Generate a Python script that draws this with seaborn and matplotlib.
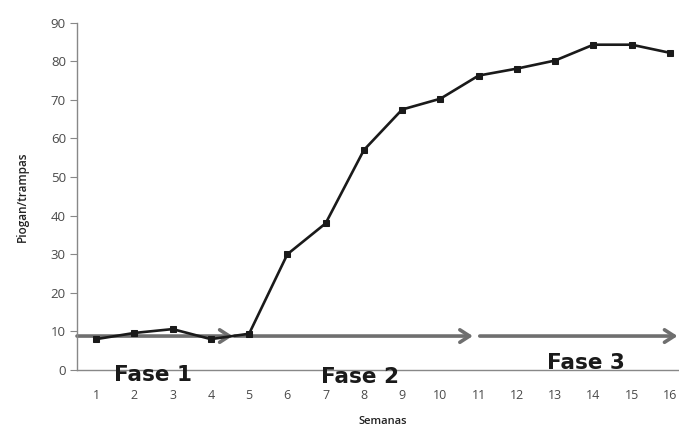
import matplotlib
matplotlib.use("Agg")
import matplotlib.pyplot as plt
import seaborn as sns
import pandas as pd

# Weekly trap counts
semanas = list(range(1, 17))
piogan = [8, 9.6, 10.6, 8, 9.4, 30, 38, 57, 67.5, 70.3, 76.3, 78.1, 80.2, 84.3, 84.3, 82.2]
y_ticks = [0, 10, 20, 30, 40, 50, 60, 70, 80, 90]

# Phase arrows (start week, end week) and labels
fase_arrows = [(0.5, 4.57), (4.62, 10.85), (11.03, 16.2)]
fase_level = 8.8
fase_labels = ["Fase 1", "Fase 2", "Fase 3"]
fase_label_pos = [(2.5, -1.2), (7.9, -1.8), (13.8, 1.8)]

df = pd.DataFrame({"Semanas": semanas, "Piogan/trampas": piogan})

sns.set_style("white")
plt.rcParams["font.family"] = ["Open Sans", "DejaVu Sans"]

fig = plt.figure(figsize=(6.79, 4.26), dpi=100)
W, H = 679, 426
left, right, top, bottom = 77, 689, 22.7, 370
ax = fig.add_axes([left / W, 1 - bottom / H, (right - left) / W, (bottom - top) / H])

# Phase arrows drawn beneath the series
for x0, x1 in fase_arrows:
    ax.annotate("", xy=(x1, fase_level), xytext=(x0, fase_level),
                arrowprops=dict(arrowstyle="->,head_length=0.7,head_width=0.45",
                                color="#6f6f6f", lw=2.6, shrinkA=0, shrinkB=0),
                annotation_clip=False, zorder=2)

sns.lineplot(data=df, x="Semanas", y="Piogan/trampas", ax=ax, color="#1a1a1a",
             linewidth=1.9, marker="s", markersize=5, markeredgecolor="#1a1a1a",
             zorder=3)

ax.set_xlim(0.5, 16.5)
ax.set_ylim(0, 90)
ax.set_yticks(y_ticks)
ax.set_xticks(semanas)
ax.set_xticks([s + 0.5 for s in [0] + semanas], minor=True)
ax.tick_params(axis="x", which="major", length=0, labelsize=9, labelcolor="#4a4a4a", pad=14)
ax.tick_params(axis="x", which="minor", length=5, width=0.8, color="#888888", direction="out")
ax.tick_params(axis="y", length=5, width=0.8, color="#888888", direction="out",
               labelsize=9.5, labelcolor="#4a4a4a", pad=3)
ax.tick_params(axis="both", bottom=True, left=True)

for side in ["top", "right"]:
    ax.spines[side].set_visible(False)
for side in ["left", "bottom"]:
    ax.spines[side].set_color("#888888")
    ax.spines[side].set_linewidth(1.0)

ax.set_xlabel("Semanas", fontsize=8, fontweight="semibold", color="#222222", labelpad=10)
ax.set_ylabel("Piogan/trampas", fontsize=8.5, fontweight="semibold", color="#222222", labelpad=16)

for label, (x, y) in zip(fase_labels, fase_label_pos):
    ax.text(x, y, label, fontsize=15.5, fontweight="bold", family="DejaVu Sans",
            color="#1a1a1a", ha="center", va="center", zorder=4, clip_on=False)

fig.savefig("out.png", dpi=100)
